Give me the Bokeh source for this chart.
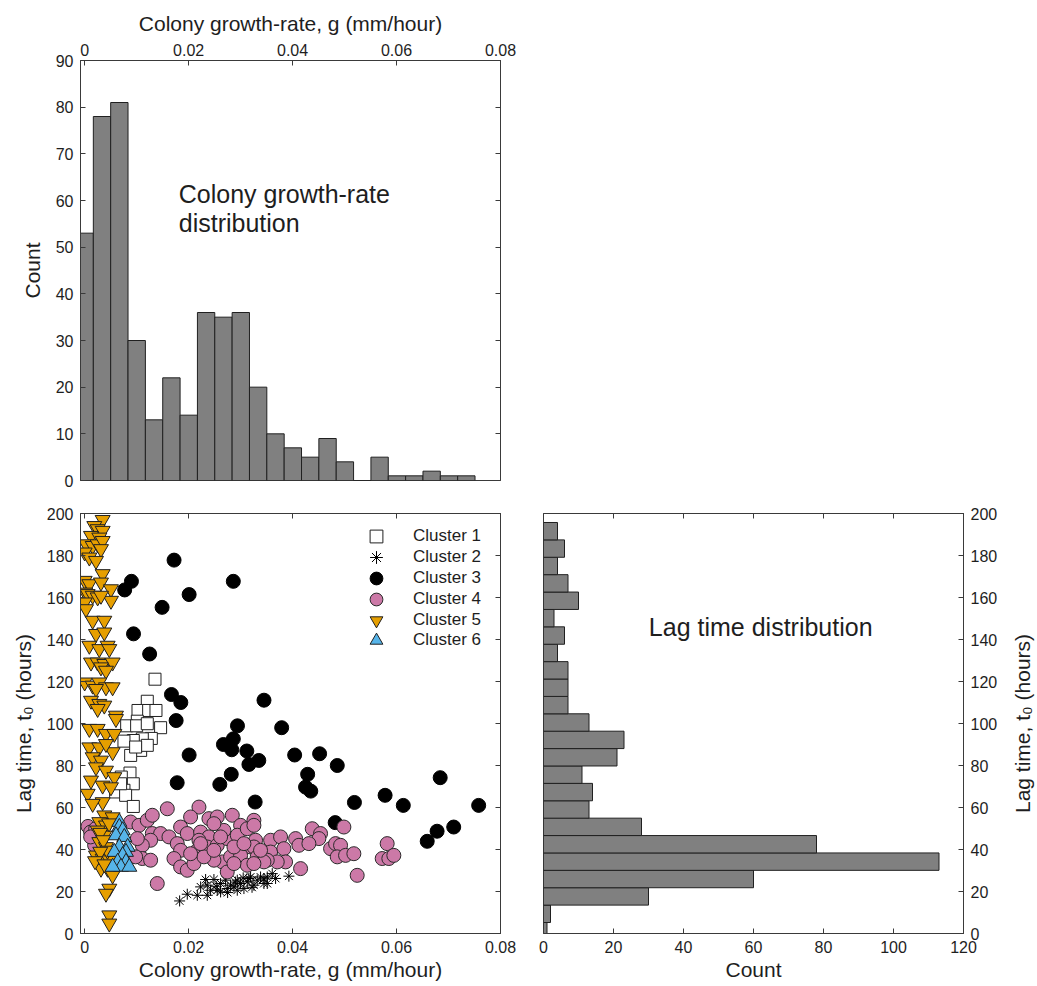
import numpy as np
from bokeh.plotting import figure
from bokeh.models import (LinearAxis, FixedTicker, Legend, LegendItem, Label, Range1d)
from bokeh.layouts import column, row
from bokeh.embed import file_html
from bokeh.resources import INLINE

FONT = "Liberation Sans"
TXT = "#1e1e1e"
AX = "#3a3a3a"

# ---------------- data ----------------
# Colony growth-rate histogram (bin edges, counts)
gr_edges = np.linspace(-0.001669, 0.075098, 24)
gr_counts = [53, 78, 81, 30, 13, 22, 14, 36, 35, 36, 20, 10, 7, 5, 9, 4, 0, 5, 1, 1, 2, 1, 1]

# Lag time histogram (bin edges, counts; bottom to top)
lag_edges = np.linspace(-3.05, 195.72, 25)
lag_counts = [1, 2, 30, 60, 113, 78, 28, 13, 14, 11, 21, 23, 13, 7, 7, 7, 4, 6, 3, 10, 7, 4, 6, 4]

g_ticks = [0, 0.02, 0.04, 0.06, 0.08]
g_tick_labels = {0: "0", 0.02: "0.02", 0.04: "0.04", 0.06: "0.06", 0.08: "0.08"}
count_ticks_top = list(range(0, 91, 10))
lag_ticks = list(range(0, 201, 20))
count_ticks_right = list(range(0, 121, 20))

# Cluster 1 (open squares)
g1 = [0.01353, 0.01205, 0.01026, 0.01231, 0.01372, 0.01013, 0.00808, 0.01000, 0.01205, 0.01461,
      0.01282, 0.01109, 0.00936, 0.00756, 0.01077, 0.00885, 0.01205, 0.00981, 0.00872, 0.00705,
      0.00936, 0.00756, 0.00596, 0.00788, 0.00936, 0.00692]
t1 = [121.1, 110.6, 106.2, 106.2, 106.2, 101.1, 98.9, 98.9, 99.9, 98.0,
      92.9, 92.7, 91.9, 91.6, 87.2, 84.8, 89.6, 88.8, 76.4, 74.5,
      71.3, 68.2, 67.4, 65.8, 60.5, 71.3]

# Cluster 2 (asterisks)
g2 = [0.01827, 0.01974, 0.02167, 0.02359, 0.02327, 0.02487, 0.02551, 0.02615, 0.02743, 0.02872,
      0.02936, 0.03000, 0.03128, 0.03192, 0.03320, 0.03449, 0.03513, 0.03609, 0.03673, 0.03929,
      0.02231, 0.02423, 0.02615, 0.02808, 0.03064, 0.03256, 0.03384, 0.03513, 0.02359, 0.02711,
      0.03160, 0.02936, 0.02530, 0.02900, 0.03220, 0.03450, 0.02750, 0.03050]
t2 = [15.5, 18.7, 18.2, 18.2, 25.7, 25.7, 20.6, 23.8, 21.4, 22.2,
      25.4, 23.8, 24.6, 26.9, 25.4, 23.8, 26.9, 28.5, 26.2, 27.3,
      22.2, 20.6, 19.8, 23.0, 21.4, 23.0, 26.9, 23.8, 23.0, 25.4,
      26.2, 20.6, 22.5, 24.5, 22.0, 26.0, 19.5, 26.5]

# Cluster 3 (black circles)
g3 = [0.0172, 0.0077, 0.0090, 0.0286, 0.0201, 0.0149, 0.0094, 0.0125, 0.0167, 0.0185,
      0.0345, 0.0176, 0.0294, 0.0379, 0.0267, 0.0286, 0.0283, 0.0201, 0.0312, 0.0316,
      0.0335, 0.0404, 0.0452, 0.0486, 0.0282, 0.0178, 0.0260, 0.0429, 0.0425, 0.0435,
      0.0684, 0.0328, 0.0519, 0.0578, 0.0613, 0.0758, 0.0482, 0.0710, 0.0678, 0.0659]
t3 = [177.8, 163.6, 167.7, 167.7, 161.4, 155.3, 142.7, 133.1, 113.8, 110.0,
      111.1, 101.4, 98.9, 98.0, 90.0, 92.7, 87.5, 85.0, 86.9, 80.5,
      82.4, 85.0, 85.6, 80.0, 75.8, 71.8, 71.0, 75.8, 69.7, 67.8,
      74.2, 62.6, 62.4, 65.8, 61.0, 61.0, 52.8, 50.7, 48.7, 43.9]

# Cluster 4 (pink circles)
g4 = [0.00064, 0.00115, 0.00192, 0.00212, 0.00115, 0.00885, 0.01045, 0.01205, 0.01301, 0.01590,
      0.01301, 0.01461, 0.01269, 0.01622, 0.01109, 0.01109, 0.01269, 0.01397, 0.01846, 0.01974,
      0.01782, 0.01846, 0.01718, 0.01846, 0.01974, 0.02102, 0.02199, 0.02038, 0.02231, 0.02391,
      0.02551, 0.02391, 0.02167, 0.02359, 0.02551, 0.02743, 0.02840, 0.03000, 0.02936, 0.03128,
      0.03192, 0.02647, 0.02808, 0.03000, 0.03128, 0.03256, 0.03288, 0.02743, 0.02487, 0.02295,
      0.02038, 0.02199, 0.02679, 0.02872, 0.01013, 0.00981, 0.03256, 0.03256, 0.03320, 0.03577,
      0.03577, 0.03769, 0.03833, 0.04058, 0.04122, 0.03865, 0.03705, 0.03513, 0.03449, 0.04154,
      0.04378, 0.04538, 0.04506, 0.04314, 0.04987, 0.04731, 0.04827, 0.04923, 0.04859, 0.05019,
      0.05179, 0.05243, 0.05820, 0.05724, 0.05852, 0.05948, 0.02487, 0.02615, 0.03064, 0.03384,
      0.02231, 0.02487, 0.02872, 0.03256]
t4 = [51.0, 48.3, 42.0, 49.9, 46.0, 53.1, 51.5, 53.9, 56.3, 59.4,
      47.6, 47.6, 44.4, 46.0, 42.0, 35.7, 34.9, 23.8, 50.7, 47.6,
      42.8, 39.6, 35.7, 31.7, 30.1, 33.3, 60.2, 55.5, 48.3, 54.7,
      55.5, 46.0, 39.6, 41.2, 42.0, 45.2, 56.3, 51.5, 46.8, 49.9,
      41.2, 34.1, 36.5, 37.2, 32.5, 53.9, 44.4, 29.3, 34.9, 36.5,
      38.0, 44.4, 49.1, 41.2, 45.2, 36.5, 51.5, 41.2, 36.5, 44.4,
      38.8, 46.0, 40.4, 45.2, 42.0, 34.1, 34.1, 34.9, 34.1, 30.9,
      49.9, 47.6, 45.2, 42.8, 50.7, 40.4, 42.8, 42.0, 36.5, 37.2,
      38.0, 27.7, 42.8, 35.7, 35.7, 37.2, 52.3, 46.0, 42.8, 39.6,
      42.8, 39.6, 33.3, 33.3]

# Cluster 5 (orange downward triangles)
g5 = [0.00346, 0.00186, 0.00250, 0.00346, 0.00122, 0.00282, 0.00026, 0.00154, 0.00250, 0.00346,
      0.00314, 0.00000, 0.00090, 0.00218, 0.00346, 0.00000, 0.00090, 0.00314, 0.00506, 0.00010,
      0.00058, 0.00154, 0.00250, 0.00000, 0.00506, 0.00314, 0.00026, 0.00154, 0.00378, 0.00218,
      0.00378, 0.00090, 0.00282, 0.00442, 0.00474, 0.00122, 0.00250, 0.00378, 0.00538, 0.00314,
      0.00410, 0.00000, 0.00154, 0.00282, 0.00410, 0.00538, 0.00218, 0.00122, 0.00282, 0.00378,
      0.00250, 0.00602, 0.00602, 0.00090, 0.00250, 0.00410, 0.00571, 0.00090, 0.00282, 0.00538,
      0.00410, 0.00154, 0.00314, 0.00218, 0.00410, 0.00571, 0.00122, 0.00346, 0.00506, 0.00058,
      0.00346, 0.00154, 0.00378, 0.00538, 0.00282, 0.00410, 0.00250, 0.00378, 0.00282, 0.00410,
      0.00218, 0.00346, 0.00474, 0.00314, 0.00442, 0.00538, 0.00474, 0.00410, 0.00474, 0.00474,
      0.00300, 0.00360, 0.00440, 0.00300, 0.00470, 0.00200, 0.00380]
t5 = [197.0, 194.1, 192.6, 191.8, 189.4, 188.6, 185.4, 184.6, 185.4, 187.0,
      183.1, 181.5, 179.1, 177.5, 171.2, 168.0, 166.4, 167.2, 164.0, 162.4,
      161.7, 160.9, 160.1, 157.7, 158.5, 160.9, 154.5, 149.0, 149.0, 142.7,
      143.4, 137.1, 135.5, 137.1, 135.5, 129.1, 129.1, 128.4, 129.1, 126.8,
      125.2, 119.6, 118.1, 119.6, 117.3, 117.3, 116.5, 110.9, 109.4, 108.6,
      107.0, 103.8, 102.2, 97.5, 97.5, 95.1, 95.1, 88.7, 88.7, 86.4,
      90.3, 84.0, 82.4, 79.2, 77.6, 74.5, 72.9, 70.5, 69.7, 66.6,
      62.6, 61.8, 56.3, 55.4, 53.1, 51.5, 49.1, 46.7, 43.6, 41.2,
      37.2, 35.7, 34.9, 30.9, 30.9, 27.7, 21.4, 19.0, 8.7, 4.8,
      48.0, 44.5, 39.5, 39.0, 52.5, 34.5, 33.0]

# Cluster 6 (blue triangles)
g6 = [0.00667, 0.00667, 0.00731, 0.00602, 0.00763, 0.00667, 0.00827, 0.00571, 0.00795, 0.00731,
      0.00635, 0.00795, 0.00699, 0.00859, 0.00538]
t6 = [53.1, 50.7, 49.1, 46.7, 45.9, 41.2, 41.2, 38.8, 38.8, 37.2,
      34.1, 34.1, 31.7, 31.7, 31.7]

cluster_names = ["Cluster 1", "Cluster 2", "Cluster 3", "Cluster 4", "Cluster 5", "Cluster 6"]


# ---------------- helpers ----------------
def style_axis(ax, labels=True):
    ax.axis_line_color = AX
    ax.axis_line_width = 1
    ax.major_tick_line_color = AX
    ax.major_tick_in = 5
    ax.major_tick_out = 0
    ax.minor_tick_line_color = None
    ax.major_label_text_font = FONT
    ax.major_label_text_font_size = "16px"
    ax.major_label_text_color = TXT
    ax.axis_label_text_font = FONT
    ax.axis_label_text_font_size = "21px"
    ax.axis_label_text_font_style = "normal"
    ax.axis_label_text_color = TXT
    if not labels:
        ax.major_label_text_font_size = "0px"
        ax.major_label_text_color = None
        ax.major_label_standoff = 0


def base_style(p):
    p.xgrid.visible = False
    p.ygrid.visible = False
    p.outline_line_color = AX
    p.outline_line_width = 1
    p.outline_line_alpha = 1
    p.background_fill_color = "white"
    p.border_fill_color = "white"


g_range = Range1d(-0.0008, 0.08)

# ---------------- top: growth-rate histogram ----------------
p1 = figure(width=520, height=492, x_range=g_range, y_range=Range1d(0, 90),
            x_axis_location="above", output_backend="svg", toolbar_location=None,
            min_border_left=80, min_border_right=20, min_border_top=60, min_border_bottom=12)
base_style(p1)
p1.quad(left=gr_edges[:-1], right=gr_edges[1:], bottom=0, top=gr_counts,
        fill_color="#808080", line_color="#202020", line_width=1)
p1.xaxis.ticker = FixedTicker(ticks=g_ticks)
p1.xaxis.major_label_overrides = g_tick_labels
p1.xaxis.axis_label = "Colony growth-rate, g (mm/hour)"
p1.yaxis.ticker = FixedTicker(ticks=count_ticks_top)
p1.yaxis.axis_label = "Count"
style_axis(p1.xaxis[0])
style_axis(p1.yaxis[0])
p1.xaxis.major_label_standoff = 5
p1.xaxis.axis_label_standoff = 6
p1.yaxis.major_label_standoff = 7
p1.yaxis.axis_label_standoff = 9
ax_r1 = LinearAxis(ticker=FixedTicker(ticks=count_ticks_top))
style_axis(ax_r1, labels=False)
p1.add_layout(ax_r1, "right")
for txt, yv in (("Colony growth-rate", 61.5), ("distribution", 55.1)):
    p1.add_layout(Label(x=0.0181, y=yv, text=txt, text_font=FONT, text_font_size="25px",
                        text_color=TXT, text_baseline="alphabetic", text_align="left"))

# ---------------- bottom-left: scatter ----------------
p2 = figure(width=520, height=494, x_range=g_range, y_range=Range1d(0, 200),
            output_backend="svg", toolbar_location=None,
            min_border_left=80, min_border_right=20, min_border_top=21, min_border_bottom=53)
base_style(p2)
p2.xaxis.ticker = FixedTicker(ticks=g_ticks)
p2.xaxis.major_label_overrides = g_tick_labels
p2.xaxis.axis_label = "Colony growth-rate, g (mm/hour)"
p2.yaxis.ticker = FixedTicker(ticks=lag_ticks)
p2.yaxis.axis_label = "Lag time, t\u2080 (hours)"
style_axis(p2.xaxis[0])
style_axis(p2.yaxis[0])
p2.xaxis.major_label_standoff = 7
p2.xaxis.axis_label_standoff = 2
p2.yaxis.major_label_standoff = 7
p2.yaxis.axis_label_standoff = 9
ax_t2 = LinearAxis(ticker=FixedTicker(ticks=g_ticks))
style_axis(ax_t2, labels=False)
p2.add_layout(ax_t2, "above")
ax_r2 = LinearAxis(ticker=FixedTicker(ticks=lag_ticks))
style_axis(ax_r2, labels=False)
p2.add_layout(ax_r2, "right")

r1 = p2.scatter(g1, t1, marker="square", size=12, fill_color="white", line_color="#202020", line_width=1)
r2 = p2.scatter(g2, t2, marker="asterisk", size=11, line_color="black", line_width=1)
r3 = p2.scatter(g3, t3, marker="circle", size=14, fill_color="black", line_color="black", line_width=1)
r4 = p2.scatter(g4, t4, marker="circle", size=14, fill_color="#CC79A7", line_color="#2a2a2a", line_width=1)
r5 = p2.scatter(g5, t5, marker="inverted_triangle", size=15, fill_color="#E69F00", line_color="#202020", line_width=1)
r6 = p2.scatter(g6, t6, marker="triangle", size=15, fill_color="#56B4E9", line_color="#202020", line_width=1)

# one legend per entry so rows can be closer than the glyph box
for i, (n, r) in enumerate(zip(cluster_names, [r1, r2, r3, r4, r5, r6])):
    lg = Legend(items=[LegendItem(label=n, renderers=[r])],
                location=(280, 380.6 - 20.8 * i), border_line_color=None, background_fill_alpha=0,
                padding=0, margin=0, spacing=0, glyph_width=32, glyph_height=32,
                label_height=18, label_standoff=21, label_text_font=FONT,
                label_text_font_size="17px", label_text_color=TXT)
    p2.add_layout(lg)

# ---------------- bottom-right: lag time histogram ----------------
p3 = figure(width=483, height=494, x_range=Range1d(0, 120), y_range=Range1d(0, 200),
            y_axis_location="right", output_backend="svg", toolbar_location=None,
            min_border_left=23, min_border_right=40, min_border_top=21, min_border_bottom=53)
base_style(p3)
p3.quad(left=0, right=lag_counts, bottom=lag_edges[:-1], top=lag_edges[1:],
        fill_color="#808080", line_color="#202020", line_width=1)
p3.xaxis.ticker = FixedTicker(ticks=count_ticks_right)
p3.xaxis.axis_label = "Count"
p3.yaxis.ticker = FixedTicker(ticks=lag_ticks)
style_axis(p3.xaxis[0])
style_axis(p3.yaxis[0])
p3.xaxis.major_label_standoff = 7
p3.xaxis.axis_label_standoff = 2
p3.yaxis.major_label_standoff = 7
ax_t3 = LinearAxis(ticker=FixedTicker(ticks=count_ticks_right))
style_axis(ax_t3, labels=False)
p3.add_layout(ax_t3, "above")
p3.add_layout(Label(x=30.1, y=146.0, text="Lag time distribution", text_font=FONT,
                    text_font_size="25px", text_color=TXT, text_baseline="alphabetic"))

# narrow strip carrying the right-hand axis title (reads bottom-to-top)
p4 = figure(width=34, height=494, x_range=Range1d(0, 1), y_range=Range1d(0, 200),
            x_axis_location=None, output_backend="svg", toolbar_location=None,
            min_border_left=30, min_border_right=0, min_border_top=21, min_border_bottom=53)
p4.xgrid.visible = False
p4.ygrid.visible = False
p4.outline_line_color = None
p4.yaxis.ticker = FixedTicker(ticks=[])
p4.yaxis.axis_line_color = None
p4.yaxis.major_tick_line_color = None
p4.yaxis.minor_tick_line_color = None
p4.yaxis.major_label_text_font_size = "0px"
p4.yaxis.major_label_text_color = None
p4.yaxis.major_label_standoff = 0
p4.yaxis.major_tick_in = 0
p4.yaxis.major_tick_out = 0
p4.yaxis.axis_label = "Lag time, t\u2080 (hours)"
p4.yaxis.axis_label_standoff = 0
p4.yaxis.axis_label_text_font = FONT
p4.yaxis.axis_label_text_font_size = "21px"
p4.yaxis.axis_label_text_font_style = "normal"
p4.yaxis.axis_label_text_color = TXT

layout = column(row(p1), row(p2, p3, p4))
open("out.html", "w").write(file_html(layout, INLINE))
